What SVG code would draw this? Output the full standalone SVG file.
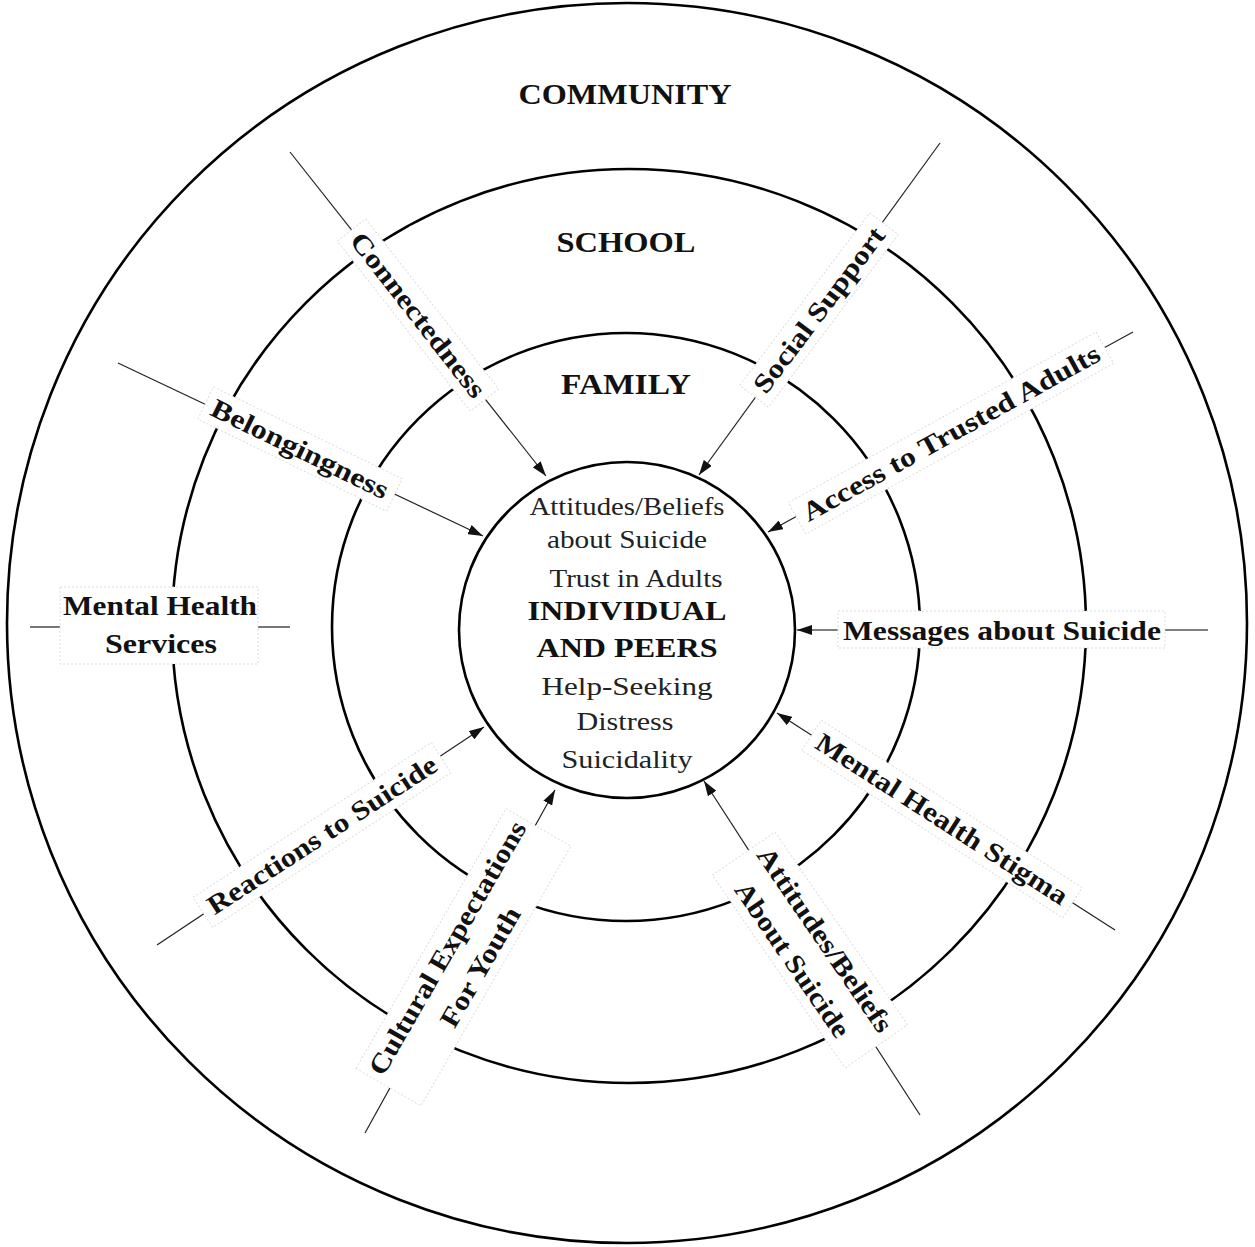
<svg xmlns="http://www.w3.org/2000/svg" width="1255" height="1247" viewBox="0 0 1255 1247">
<style>
.ring{fill:none;stroke:#000;stroke-width:2.6}
.con{stroke:#222;stroke-width:1.2;fill:none}
.box{fill:#fff;stroke:#dcdcdc;stroke-width:1;stroke-dasharray:2,2}
.lbl{font-family:"Liberation Serif","Times New Roman",serif;font-weight:bold;font-size:27px;fill:#111;text-anchor:middle}
.ttl{font-family:"Liberation Serif","Times New Roman",serif;font-weight:bold;font-size:29px;fill:#111;text-anchor:middle}
.inn{font-family:"Liberation Serif","Times New Roman",serif;font-size:25px;fill:#222;text-anchor:middle}
.innb{font-family:"Liberation Serif","Times New Roman",serif;font-weight:bold;font-size:28px;fill:#111;text-anchor:middle}
</style>
<defs>
<marker id="arr" markerUnits="userSpaceOnUse" markerWidth="15" markerHeight="10" refX="15" refY="5" orient="auto">
<path d="M0,0 L15,5 L0,10 z" fill="#111"/>
</marker>
</defs>
<rect width="1255" height="1247" fill="#fff"/>
<g id="rings">
<circle class="ring" cx="627" cy="623" r="620"/>
<circle class="ring" cx="629" cy="626" r="457"/>
<circle class="ring" cx="626" cy="627" r="294"/>
</g>
<g id="connectors">
<line class="con" x1="290" y1="152" x2="546" y2="476" marker-end="url(#arr)"/>
<line class="con" x1="940" y1="143" x2="699" y2="475" marker-end="url(#arr)"/>
<line class="con" x1="1133" y1="332" x2="768" y2="532" marker-end="url(#arr)"/>
<line class="con" x1="1208" y1="630" x2="797" y2="630" marker-end="url(#arr)" style="stroke:#555;stroke-width:1.6"/>
<line class="con" x1="1115" y1="930" x2="777" y2="713" marker-end="url(#arr)"/>
<line class="con" x1="920" y1="1115" x2="704" y2="781" marker-end="url(#arr)"/>
<line class="con" x1="365" y1="1133" x2="555" y2="790" marker-end="url(#arr)"/>
<line class="con" x1="157" y1="945" x2="484" y2="727" marker-end="url(#arr)"/>
<line class="con" x1="118" y1="363" x2="483" y2="536" marker-end="url(#arr)"/>
<line class="con" x1="30" y1="627" x2="62" y2="627" style="stroke:#555;stroke-width:1.6"/>
<line class="con" x1="258" y1="627" x2="290" y2="627" style="stroke:#555;stroke-width:1.6"/>
</g>
<g id="individual">
<circle class="ring" cx="627" cy="630" r="168" fill="#fff"/>
<text class="inn" x="627" y="515" textLength="195" lengthAdjust="spacingAndGlyphs">Attitudes/Beliefs</text>
<text class="inn" x="627" y="548" textLength="160" lengthAdjust="spacingAndGlyphs">about Suicide</text>
<text class="inn" x="636" y="587" textLength="173" lengthAdjust="spacingAndGlyphs">Trust in Adults</text>
<text class="innb" x="627" y="620" textLength="199" lengthAdjust="spacingAndGlyphs">INDIVIDUAL</text>
<text class="innb" x="627" y="657" textLength="181" lengthAdjust="spacingAndGlyphs">AND PEERS</text>
<text class="inn" x="627" y="695" textLength="171" lengthAdjust="spacingAndGlyphs">Help-Seeking</text>
<text class="inn" x="625" y="730" textLength="97" lengthAdjust="spacingAndGlyphs">Distress</text>
<text class="inn" x="627" y="768" textLength="131" lengthAdjust="spacingAndGlyphs">Suicidality</text>
</g>
<g id="community"><text class="ttl" x="625" y="104" textLength="213" lengthAdjust="spacingAndGlyphs">COMMUNITY</text></g>
<g id="school"><text class="ttl" x="626" y="252" textLength="139" lengthAdjust="spacingAndGlyphs">SCHOOL</text></g>
<g id="family"><text class="ttl" x="626" y="394" textLength="130" lengthAdjust="spacingAndGlyphs">FAMILY</text></g>
<g id="connectedness" transform="translate(418,315) rotate(52)">
<rect class="box" x="-108" y="-18" width="216" height="36"/>
<text class="lbl" x="0" y="9" textLength="202" lengthAdjust="spacingAndGlyphs">Connectedness</text>
</g>
<g id="social-support" transform="translate(819,310) rotate(-53)">
<rect class="box" x="-108" y="-18" width="216" height="36"/>
<text class="lbl" x="0" y="9" textLength="200" lengthAdjust="spacingAndGlyphs">Social Support</text>
</g>
<g id="access-trusted-adults" transform="translate(951,433) rotate(-29)">
<rect class="box" x="-176" y="-18" width="352" height="36"/>
<text class="lbl" x="0" y="9" textLength="336" lengthAdjust="spacingAndGlyphs">Access to Trusted Adults</text>
</g>
<g id="messages-about-suicide">
<rect class="box" x="838" y="611" width="327" height="37"/>
<text class="lbl" x="1002" y="640" textLength="318" lengthAdjust="spacingAndGlyphs">Messages about Suicide</text>
</g>
<g id="mental-health-stigma" transform="translate(942,819) rotate(32.7)">
<rect class="box" x="-155" y="-18" width="310" height="36"/>
<text class="lbl" x="0" y="9" textLength="294" lengthAdjust="spacingAndGlyphs">Mental Health Stigma</text>
</g>
<g id="attitudes-beliefs" transform="translate(810,950) rotate(55.5)">
<rect class="box" x="-117" y="-38" width="234" height="76"/>
<text class="lbl" x="0" y="-9" textLength="218" lengthAdjust="spacingAndGlyphs">Attitudes/Beliefs</text>
<text class="lbl" x="-2" y="29" textLength="182" lengthAdjust="spacingAndGlyphs">About Suicide</text>
</g>
<g id="cultural-expectations" transform="translate(463,957) rotate(-60)">
<rect class="box" x="-150" y="-37" width="300" height="75"/>
<text class="lbl" x="0" y="-9" textLength="288" lengthAdjust="spacingAndGlyphs">Cultural Expectations</text>
<text class="lbl" x="0" y="29" textLength="134" lengthAdjust="spacingAndGlyphs">For Youth</text>
</g>
<g id="reactions-to-suicide" transform="translate(322,835) rotate(-33)">
<rect class="box" x="-142" y="-18" width="284" height="36"/>
<text class="lbl" x="0" y="9" textLength="268" lengthAdjust="spacingAndGlyphs">Reactions to Suicide</text>
</g>
<g id="belongingness" transform="translate(300,449) rotate(26)">
<rect class="box" x="-105" y="-18" width="210" height="36"/>
<text class="lbl" x="0" y="9" textLength="194" lengthAdjust="spacingAndGlyphs">Belongingness</text>
</g>
<g id="mental-health-services">
<rect class="box" x="60" y="587" width="198" height="77"/>
<text class="lbl" x="160" y="615" textLength="194" lengthAdjust="spacingAndGlyphs">Mental Health</text>
<text class="lbl" x="161" y="653" textLength="112" lengthAdjust="spacingAndGlyphs">Services</text>
</g>
</svg>
